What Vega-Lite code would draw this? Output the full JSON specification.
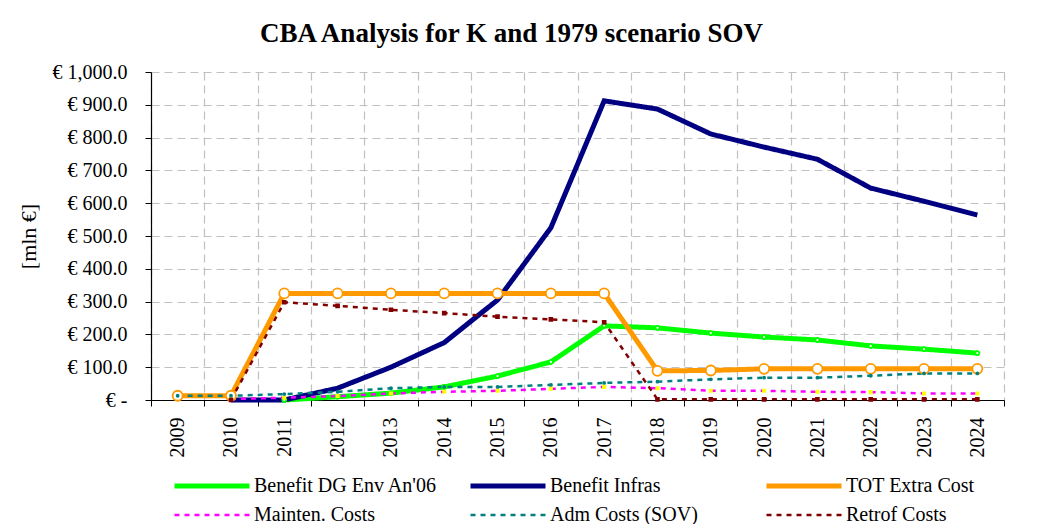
{
  "$schema": "https://vega.github.io/schema/vega-lite/v6.json",
  "width": 853,
  "height": 328,
  "autosize": {"type": "none"},
  "padding": {"left": 151, "top": 72, "right": 33, "bottom": 124},
  "background": "white",
  "config": {
    "font": "Liberation Serif",
    "view": {"stroke": null},
    "legend": {
      "title": null,
      "orient": "none",
      "legendX": 21,
      "legendY": 399,
      "direction": "horizontal",
      "columns": 3,
      "gridAlign": "all",
      "columnPadding": 22,
      "rowPadding": 5,
      "symbolType": "M-1,0H5",
      "symbolSize": 625,
      "labelFont": "Liberation Serif",
      "labelFontSize": 20,
      "labelColor": "black",
      "labelOffset": 52,
      "labelLimit": 400
    }
  },
  "title": {
    "text": "CBA Analysis for K and 1979 scenario SOV",
    "font": "Liberation Serif",
    "fontSize": 27,
    "fontWeight": "bold",
    "color": "black",
    "anchor": "middle",
    "frame": "group",
    "dx": -66,
    "offset": 14
  },
  "data": {
    "values": [
      {"yr": "2011", "s": "Benefit DG Env An'06", "v": 0},
      {"yr": "2012", "s": "Benefit DG Env An'06", "v": 10},
      {"yr": "2013", "s": "Benefit DG Env An'06", "v": 21},
      {"yr": "2014", "s": "Benefit DG Env An'06", "v": 40},
      {"yr": "2015", "s": "Benefit DG Env An'06", "v": 73},
      {"yr": "2016", "s": "Benefit DG Env An'06", "v": 116},
      {"yr": "2017", "s": "Benefit DG Env An'06", "v": 226},
      {"yr": "2018", "s": "Benefit DG Env An'06", "v": 220},
      {"yr": "2019", "s": "Benefit DG Env An'06", "v": 204},
      {"yr": "2020", "s": "Benefit DG Env An'06", "v": 192},
      {"yr": "2021", "s": "Benefit DG Env An'06", "v": 183},
      {"yr": "2022", "s": "Benefit DG Env An'06", "v": 165},
      {"yr": "2023", "s": "Benefit DG Env An'06", "v": 155},
      {"yr": "2024", "s": "Benefit DG Env An'06", "v": 143},
      {"yr": "2010", "s": "Benefit Infras", "v": 0},
      {"yr": "2011", "s": "Benefit Infras", "v": 0},
      {"yr": "2012", "s": "Benefit Infras", "v": 36},
      {"yr": "2013", "s": "Benefit Infras", "v": 100},
      {"yr": "2014", "s": "Benefit Infras", "v": 175},
      {"yr": "2015", "s": "Benefit Infras", "v": 305},
      {"yr": "2016", "s": "Benefit Infras", "v": 525},
      {"yr": "2017", "s": "Benefit Infras", "v": 912},
      {"yr": "2018", "s": "Benefit Infras", "v": 887},
      {"yr": "2019", "s": "Benefit Infras", "v": 811},
      {"yr": "2020", "s": "Benefit Infras", "v": 771},
      {"yr": "2021", "s": "Benefit Infras", "v": 734},
      {"yr": "2022", "s": "Benefit Infras", "v": 646},
      {"yr": "2023", "s": "Benefit Infras", "v": 606},
      {"yr": "2024", "s": "Benefit Infras", "v": 564},
      {"yr": "2009", "s": "TOT Extra Cost", "v": 13},
      {"yr": "2010", "s": "TOT Extra Cost", "v": 13},
      {"yr": "2011", "s": "TOT Extra Cost", "v": 325},
      {"yr": "2012", "s": "TOT Extra Cost", "v": 325},
      {"yr": "2013", "s": "TOT Extra Cost", "v": 325},
      {"yr": "2014", "s": "TOT Extra Cost", "v": 325},
      {"yr": "2015", "s": "TOT Extra Cost", "v": 325},
      {"yr": "2016", "s": "TOT Extra Cost", "v": 325},
      {"yr": "2017", "s": "TOT Extra Cost", "v": 325},
      {"yr": "2018", "s": "TOT Extra Cost", "v": 89},
      {"yr": "2019", "s": "TOT Extra Cost", "v": 90},
      {"yr": "2020", "s": "TOT Extra Cost", "v": 95},
      {"yr": "2021", "s": "TOT Extra Cost", "v": 95},
      {"yr": "2022", "s": "TOT Extra Cost", "v": 95},
      {"yr": "2023", "s": "TOT Extra Cost", "v": 95},
      {"yr": "2024", "s": "TOT Extra Cost", "v": 95},
      {"yr": "2010", "s": "Mainten. Costs", "v": 3},
      {"yr": "2011", "s": "Mainten. Costs", "v": 7},
      {"yr": "2012", "s": "Mainten. Costs", "v": 12},
      {"yr": "2013", "s": "Mainten. Costs", "v": 20},
      {"yr": "2014", "s": "Mainten. Costs", "v": 25},
      {"yr": "2015", "s": "Mainten. Costs", "v": 28},
      {"yr": "2016", "s": "Mainten. Costs", "v": 34},
      {"yr": "2017", "s": "Mainten. Costs", "v": 40},
      {"yr": "2018", "s": "Mainten. Costs", "v": 36},
      {"yr": "2019", "s": "Mainten. Costs", "v": 28},
      {"yr": "2020", "s": "Mainten. Costs", "v": 28},
      {"yr": "2021", "s": "Mainten. Costs", "v": 25},
      {"yr": "2022", "s": "Mainten. Costs", "v": 24},
      {"yr": "2023", "s": "Mainten. Costs", "v": 20},
      {"yr": "2024", "s": "Mainten. Costs", "v": 20},
      {"yr": "2009", "s": "Adm Costs (SOV)", "v": 13},
      {"yr": "2010", "s": "Adm Costs (SOV)", "v": 13},
      {"yr": "2011", "s": "Adm Costs (SOV)", "v": 18},
      {"yr": "2012", "s": "Adm Costs (SOV)", "v": 25},
      {"yr": "2013", "s": "Adm Costs (SOV)", "v": 36},
      {"yr": "2014", "s": "Adm Costs (SOV)", "v": 40},
      {"yr": "2015", "s": "Adm Costs (SOV)", "v": 40},
      {"yr": "2016", "s": "Adm Costs (SOV)", "v": 46},
      {"yr": "2017", "s": "Adm Costs (SOV)", "v": 52},
      {"yr": "2018", "s": "Adm Costs (SOV)", "v": 56},
      {"yr": "2019", "s": "Adm Costs (SOV)", "v": 63},
      {"yr": "2020", "s": "Adm Costs (SOV)", "v": 68},
      {"yr": "2021", "s": "Adm Costs (SOV)", "v": 68},
      {"yr": "2022", "s": "Adm Costs (SOV)", "v": 74},
      {"yr": "2023", "s": "Adm Costs (SOV)", "v": 81},
      {"yr": "2024", "s": "Adm Costs (SOV)", "v": 81},
      {"yr": "2010", "s": "Retrof Costs", "v": 0},
      {"yr": "2011", "s": "Retrof Costs", "v": 298},
      {"yr": "2012", "s": "Retrof Costs", "v": 287},
      {"yr": "2013", "s": "Retrof Costs", "v": 275},
      {"yr": "2014", "s": "Retrof Costs", "v": 265},
      {"yr": "2015", "s": "Retrof Costs", "v": 254},
      {"yr": "2016", "s": "Retrof Costs", "v": 246},
      {"yr": "2017", "s": "Retrof Costs", "v": 237},
      {"yr": "2018", "s": "Retrof Costs", "v": 2},
      {"yr": "2019", "s": "Retrof Costs", "v": 2},
      {"yr": "2020", "s": "Retrof Costs", "v": 2},
      {"yr": "2021", "s": "Retrof Costs", "v": 2},
      {"yr": "2022", "s": "Retrof Costs", "v": 2},
      {"yr": "2023", "s": "Retrof Costs", "v": 2},
      {"yr": "2024", "s": "Retrof Costs", "v": 2}
    ]
  },
  "encoding": {
    "x": {
      "field": "yr",
      "type": "ordinal",
      "bandPosition": 0.5,
      "scale": {
        "type": "band",
        "domain": ["2009","2010","2011","2012","2013","2014","2015","2016","2017","2018","2019","2020","2021","2022","2023","2024"],
        "paddingInner": 0,
        "paddingOuter": 0
      },
      "axis": {
        "title": null,
        "tickBand": "extent",
        "labelAngle": -90,
        "labelAlign": "right",
        "labelBaseline": "middle",
        "labelFont": "Liberation Serif",
        "labelFontSize": 20,
        "labelColor": "black",
        "labelPadding": 11,
        "tickSize": 6,
        "tickColor": "black",
        "domainColor": "black",
        "domainWidth": 1.2,
        "grid": true,
        "gridColor": "#c0c0c0",
        "gridDash": [8, 5],
        "gridWidth": 1.2
      }
    },
    "y": {
      "field": "v",
      "type": "quantitative",
      "scale": {"domain": [0, 1000], "nice": false, "zero": true},
      "axis": {
        "title": "[mln €]",
        "titleFont": "Liberation Serif",
        "titleFontSize": 22,
        "titleFontWeight": "normal",
        "titleColor": "black",
        "titlePadding": 12,
        "values": [0,100,200,300,400,500,600,700,800,900,1000],
        "labelExpr": "datum.value == 0 ? '€ -' : '€ ' + format(datum.value, ',.1f')",
        "labelFont": "Liberation Serif",
        "labelFontSize": 20,
        "labelColor": "black",
        "labelPadding": 18,
        "tickSize": 6,
        "tickColor": "black",
        "domainColor": "black",
        "domainWidth": 1.2,
        "grid": true,
        "gridColor": "#c0c0c0",
        "gridDash": [8, 5],
        "gridWidth": 1.2
      }
    }
  },
  "layer": [
    {
      "mark": {"type": "line", "strokeCap": "butt"},
      "encoding": {
        "color": {
          "field": "s",
          "type": "nominal",
          "scale": {
            "domain": ["Benefit DG Env An'06","Benefit Infras","TOT Extra Cost","Mainten. Costs","Adm Costs (SOV)","Retrof Costs"],
            "range": ["#00ff00","#000080","#ff9900","#ff00ff","#008080","#800000"]
          }
        },
        "strokeDash": {
          "field": "s",
          "type": "nominal",
          "scale": {
            "domain": ["Benefit DG Env An'06","Benefit Infras","TOT Extra Cost","Mainten. Costs","Adm Costs (SOV)","Retrof Costs"],
            "range": [[1,0],[1,0],[1,0],[5,5],[5,5],[5,5]]
          }
        },
        "strokeWidth": {
          "field": "s",
          "type": "nominal",
          "scale": {
            "type": "ordinal",
            "domain": ["Benefit DG Env An'06","Benefit Infras","TOT Extra Cost","Mainten. Costs","Adm Costs (SOV)","Retrof Costs"],
            "range": [5,5,5,2.5,2.5,2.5]
          }
        }
      }
    },
    {
      "transform": [{"filter": "datum.s != 'Benefit Infras'"}],
      "mark": {"type": "point", "filled": false, "opacity": 1, "strokeWidth": 1.8},
      "encoding": {
        "shape": {
          "field": "s",
          "type": "nominal",
          "scale": {
            "domain": ["Benefit DG Env An'06","TOT Extra Cost","Mainten. Costs","Adm Costs (SOV)","Retrof Costs"],
            "range": ["circle","circle","square","circle","square"]
          },
          "legend": null
        },
        "fill": {
          "field": "s",
          "type": "nominal",
          "scale": {
            "domain": ["Benefit DG Env An'06","TOT Extra Cost","Mainten. Costs","Adm Costs (SOV)","Retrof Costs"],
            "range": ["#ffffff","#ffffff","#ffff00","#008080","#800000"]
          },
          "legend": null
        },
        "stroke": {
          "field": "s",
          "type": "nominal",
          "scale": {
            "domain": ["Benefit DG Env An'06","TOT Extra Cost","Mainten. Costs","Adm Costs (SOV)","Retrof Costs"],
            "range": ["#00ff00","#ff9900","#ffff00","#008080","#800000"]
          },
          "legend": null
        },
        "size": {
          "field": "s",
          "type": "nominal",
          "scale": {
            "type": "ordinal",
            "domain": ["Benefit DG Env An'06","TOT Extra Cost","Mainten. Costs","Adm Costs (SOV)","Retrof Costs"],
            "range": [16, 100, 5, 4, 8]
          },
          "legend": null
        }
      }
    }
  ]
}
